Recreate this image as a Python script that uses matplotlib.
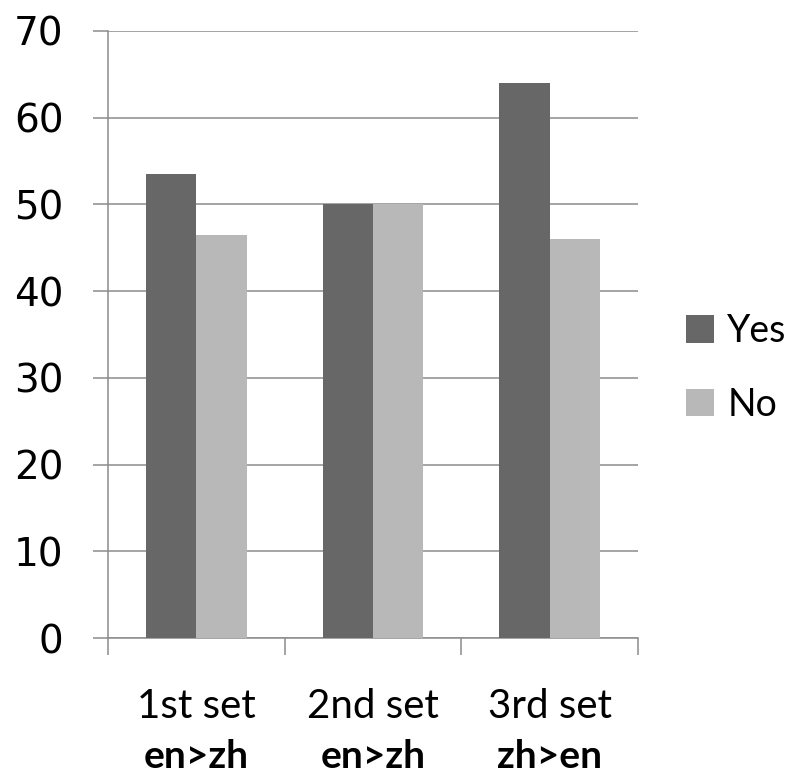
import numpy as np
import matplotlib.pyplot as plt
from matplotlib.ticker import FixedLocator

sets = ["1st set", "2nd set", "3rd set"]
directions = ["en>zh", "en>zh", "zh>en"]
yes_vals = [53.5, 50, 64]
no_vals = [46.5, 50, 46]

fig = plt.figure(figsize=(7.94, 7.76), dpi=100)
ax = fig.add_axes([108 / 794, 1 - 638 / 776, 530 / 794, 607 / 776])

x = np.arange(len(sets))
w = 1 / 3.5
ax.bar(x - w / 2, yes_vals, w, color="#676767", label="Yes", zorder=3)
ax.bar(x + w / 2, no_vals, w, color="#b8b8b8", label="No", zorder=3)

grid_col = "#8c8c8c"
ax.set_xlim(-0.5, len(sets) - 0.5)
ax.set_ylim(0, 70)
ax.set_yticks(range(0, 71, 10))
ax.yaxis.grid(True, color=grid_col, linewidth=1.1, zorder=0)
ax.tick_params(axis="y", length=11, width=1.1, color=grid_col, pad=21,
               labelsize=28)
for lab in ax.get_yticklabels():
    lab.set_fontfamily("DejaVu Sans")

# category boundaries carry the x ticks, labels sit centred between them
ax.xaxis.set_minor_locator(FixedLocator(np.arange(-0.5, len(sets), 1)))
ax.set_xticks(x)
ax.set_xticklabels([""] * len(sets))
ax.tick_params(axis="x", which="major", length=0)
ax.tick_params(axis="x", which="minor", length=12, width=1.1, color=grid_col)

for i in x:
    ax.text(i, -7.9, sets[i], ha="center", va="center", fontsize=29,
            family="Lato")
    ax.text(i, -13.7, directions[i], ha="center", va="center", fontsize=28,
            family="Lato", fontweight="bold")

for side in ["top", "right"]:
    ax.spines[side].set_visible(False)
for side in ["left", "bottom"]:
    ax.spines[side].set_color(grid_col)
    ax.spines[side].set_linewidth(1.1)

fig.legend(loc="center left", bbox_to_anchor=(686 / 794, 1 - 368 / 776),
           frameon=False, prop={"family": "Lato", "size": 27},
           borderpad=0, borderaxespad=0,
           handlelength=0.75, handleheight=0.75, handletextpad=0.35,
           labelspacing=1.0)

fig.savefig("out.png", dpi=100)
